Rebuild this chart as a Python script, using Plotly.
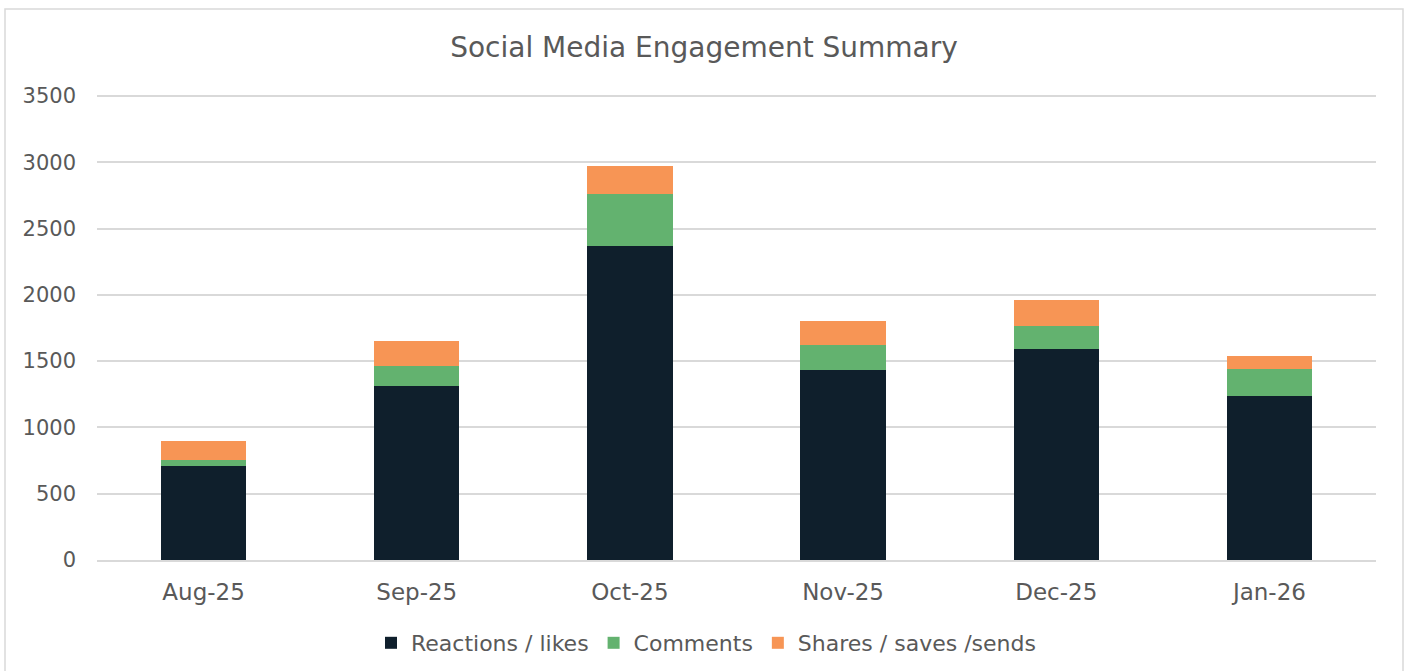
import plotly.graph_objects as go

months = ["Aug-25", "Sep-25", "Oct-25", "Nov-25", "Dec-25", "Jan-26"]
reactions = [710, 1310, 2370, 1430, 1595, 1240]
comments = [43, 150, 390, 190, 170, 200]
shares = [143, 190, 215, 185, 195, 100]

colors = {"r": "#0F1F2C", "c": "#63B26F", "s": "#F79555"}
font_family = "DejaVu Sans, Verdana, sans-serif"

fig = go.Figure()
fig.add_trace(go.Bar(x=months, y=reactions, name="Reactions / likes", marker_color=colors["r"], marker_line_width=0))
fig.add_trace(go.Bar(x=months, y=comments, name="Comments", marker_color=colors["c"], marker_line_width=0))
fig.add_trace(go.Bar(x=months, y=shares, name="Shares / saves /sends", marker_color=colors["s"], marker_line_width=0))

L, R, T, B = 97, 32, 94, 111
W, H = 1408, 671
pw, ph = W - L - R, H - T - B

def px_x(px):
    return (px - L) / pw

def px_y(py):
    return (H - B - py) / ph

fig.update_layout(
    width=W, height=H,
    barmode="stack", bargap=0.6,
    plot_bgcolor="white", paper_bgcolor="white",
    margin=dict(l=L, r=R, t=T, b=B, autoexpand=False),
    font=dict(family=font_family, color="#595959", size=22),
    title=dict(text="Social Media Engagement Summary", x=0.5, xanchor="center",
               y=1 - 47 / H, yanchor="middle", font=dict(size=28, color="#595959")),
    legend=dict(orientation="h", x=706 / W, xref="container", xanchor="center",
                y=1 - 643 / H, yref="container", yanchor="middle",
                font=dict(size=22, color="#595959"), traceorder="normal"),
    showlegend=True,
    shapes=[dict(type="rect", xref="paper", yref="paper",
                 x0=px_x(5), x1=px_x(1403), y0=px_y(700), y1=px_y(9),
                 line=dict(color="#D9D9D9", width=1.5), layer="below")],
)
fig.update_yaxes(range=[0, 3515], tickvals=[0, 500, 1000, 1500, 2000, 2500, 3000, 3500],
                 showgrid=True, gridcolor="#D9D9D9", gridwidth=1.5, automargin=False,
                 zeroline=False, showline=False, ticks="", ticklabelstandoff=20,
                 tickfont=dict(size=21, color="#595959"))
fig.update_xaxes(showline=True, linecolor="#D9D9D9", linewidth=1.5, ticks="", automargin=False,
                 ticklabelstandoff=11, tickfont=dict(size=23, color="#595959"))

fig.write_html("out.html", config={"displayModeBar": False},
               post_script="document.body.style.margin='0';document.body.style.overflow='hidden';")
